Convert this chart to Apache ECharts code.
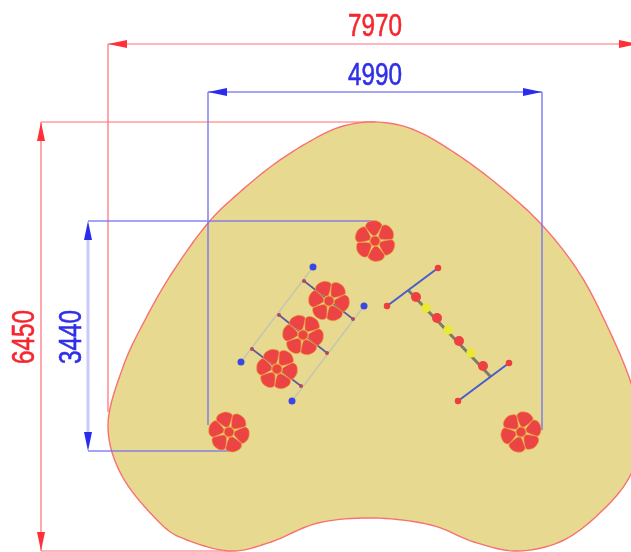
<!DOCTYPE html>
<html><head><meta charset="utf-8">
<style>html,body{margin:0;padding:0;background:#fff}#c{width:631px;height:552px}</style>
<script src="https://cdn.jsdelivr.net/npm/echarts@6/dist/echarts.min.js"></script>
</head><body><div id="c"></div>
<script>
const outline=[[375,122],[412,129],[452,151],[497,184],[542,225],[580,274],[610,332],[631,383],[642,430],[631,474],[604,509],[564,540],[518,551],[474,542],[431,525],[374,518],[318,523],[271,542],[231,551],[187,540],[160,523],[122,476],[108,425],[123,367],[145,320],[172,273],[208,223],[240,192],[273,165],[307,143],[340,127]];
const redLines=[[[108,44],[640,44]],[[108,44],[108,412]],[[41,122],[375,122]],[[41,122],[41,551]],[[41,551],[231,551]]];
const blueLines=[[[208,92],[542,92]],[[208,92],[208,425]],[[542,92],[542,430]],[[88,221],[372,221]],[[88,451],[230,451]]];
const paleBlueLines=[[[88,240],[88,433]]];
const redArrows=[[108,44,1,0],[638,44,-1,0],[41,122,0,1],[41,551,0,-1]];
const blueArrows=[[208,92,1,0],[542,92,-1,0],[88,221,0,1],[88,451,0,-1]];
const dimLabels=[['7970',375,27,0,'#f5262e'],['4990',375,76,0,'#2f2fe8'],['6450',25,337,90,'#f5262e'],['3440',72,337,90,'#2f2fe8']];
const flowers=[[375,241,-5],[329,301,-22],[303,335,-22],[277,369,-22],[229,432,-18],[521,432,15]];
const petal=[[-1.6,-5.5],[-6,-11],[-8.2,-15.5],[-5,-19.5],[2.5,-20.2],[8.2,-16],[6,-11],[1.6,-5.5]];
const rails=[[[313,267],[241,362]],[[364,306],[292,401]]];
const slats=[[[304,281],[353,319]],[[279,315],[327,353]],[[252,349],[301,386]]];
const slatEnds=[[304,281],[353,319],[279,315],[327,353],[252,349],[301,386]];
const blueDots=[[313,267],[364,306],[241,362],[292,401]];
const beam=[[[408,290],[491,377]]];
const crossBars=[[[438,268],[387,306]],[[509,363],[458,401]]];
const barEnds=[[438,268],[387,306],[509,363],[458,401]];
const redBeads=[[416,297],[437,318],[459,341],[483,366]];
const yellowBeads=[[426,308],[448,330],[471,353]];

function closedCurve(pts){const out=[],n=pts.length;for(let i=0;i<n;i++){const a=pts[(i+n-1)%n],b=pts[i],c=pts[(i+1)%n],d=pts[(i+2)%n];for(let k=0;k<10;k++){const t=k/10,t2=t*t,t3=t2*t;out.push([0,1].map(j=>0.5*(2*b[j]+(c[j]-a[j])*t+(2*a[j]-5*b[j]+4*c[j]-d[j])*t2+(3*b[j]-a[j]-3*c[j]+d[j])*t3)));}}return out;}
function segs(list){const o=[];list.forEach((s,i)=>{if(i)o.push([null,null]);s.forEach(p=>o.push(p));});return o;}
function lineS(list,color,width,opacity,z){return {type:'line',data:segs(list),symbol:'none',silent:true,z:z,animation:false,connectNulls:false,lineStyle:{color:color,width:width,opacity:opacity==null?1:opacity}};}
function dots(data,color,size,z){return {type:'scatter',data:data,symbol:'circle',symbolSize:size,silent:true,z:z,animation:false,itemStyle:{color:color,opacity:1}};}
function arrows(data,color){return {type:'custom',data:data,silent:true,z:6,animation:false,clip:false,encode:{x:0,y:1},renderItem(p,api){
  const x=api.value(0),y=api.value(1),dx=api.value(2),dy=api.value(3),L=19,W=4;
  const pts=[[x,y],[x+dx*L-dy*W,y+dy*L-dx*W],[x+dx*L+dy*W,y+dy*L+dx*W]].map(q=>api.coord(q));
  return {type:'polygon',shape:{points:pts},style:{fill:color}};
}};}
const opt={
  animation:false,backgroundColor:'#fff',
  grid:{left:0,right:0,top:0,bottom:0},
  xAxis:{type:'value',min:0,max:631,show:false},
  yAxis:{type:'value',min:0,max:552,inverse:true,show:false},
  series:[
    lineS(redLines,'#ff6f75',1.2,1,1),
    {type:'custom',data:[[0,0]],silent:true,z:2,animation:false,clip:false,encode:{x:0,y:1},renderItem(p,api){
      return {type:'polygon',shape:{points:closedCurve(outline).map(q=>api.coord(q))},style:{fill:'#e8d991',stroke:'#f87070',lineWidth:1.4}};
    }},
    lineS(blueLines,'#7272ee',1.6,0.85,3),
    lineS(paleBlueLines,'#c9c9fb',3,1,3),
    arrows(redArrows,'#ff3038'),
    arrows(blueArrows,'#2b2bf0'),
    lineS(rails,'#c6c6ae',1.5,1,3),
    lineS(slats,'#5a5a9c',1.6,1,3),
    lineS(beam,'#7c7c68',3,1,3),
    lineS(crossBars,'#4a5ccc',2,1,3),
    dots(slatEnds,'#b84560',4,5),
    dots(blueDots,'#3a48e2',7,5),
    dots(barEnds,'#ee3d3d',6.5,5),
    dots(redBeads,'#ee4040',10,5),
    dots(yellowBeads,'#e9e832',9.5,5),
    {type:'custom',data:flowers,silent:true,z:7,animation:false,clip:false,encode:{x:0,y:1},renderItem(p,api){
      const cx=api.value(0),cy=api.value(1),base=api.value(2);
      const kids=[];
      const curve=closedCurve(petal);
      for(let k=0;k<6;k++){
        const a=(base+k*60)*Math.PI/180,c=Math.cos(a),s=Math.sin(a);
        const pts=curve.map(q=>api.coord([cx+q[0]*c-q[1]*s,cy+q[0]*s+q[1]*c]));
        kids.push({type:'polygon',shape:{points:pts},style:{fill:'#ec4444',stroke:'#e9a63c',lineWidth:0.7}});
      }
      const o=api.coord([cx,cy]);
      kids.push({type:'circle',shape:{cx:o[0],cy:o[1],r:5.2},style:{fill:'#ec4444',stroke:'#e9a63c',lineWidth:1.3}});
      return {type:'group',children:kids};
    }},
    {type:'custom',data:dimLabels.map(d=>[d[1],d[2]]),silent:true,z:8,animation:false,clip:false,encode:{x:0,y:1},renderItem(p,api){
      const o=api.coord([api.value(0),api.value(1)]);
      const d=dimLabels[p.dataIndex];
      return {type:'text',x:o[0],y:o[1],scaleX:0.76,rotation:d[3]*Math.PI/180,style:{text:d[0],fill:d[4],stroke:d[4],lineWidth:0.6,font:'32px "Liberation Sans",sans-serif',align:'center',verticalAlign:'middle'}};
    }}
  ]
};
echarts.init(document.getElementById('c'),null,{renderer:'canvas'}).setOption(opt);
</script></body></html>
